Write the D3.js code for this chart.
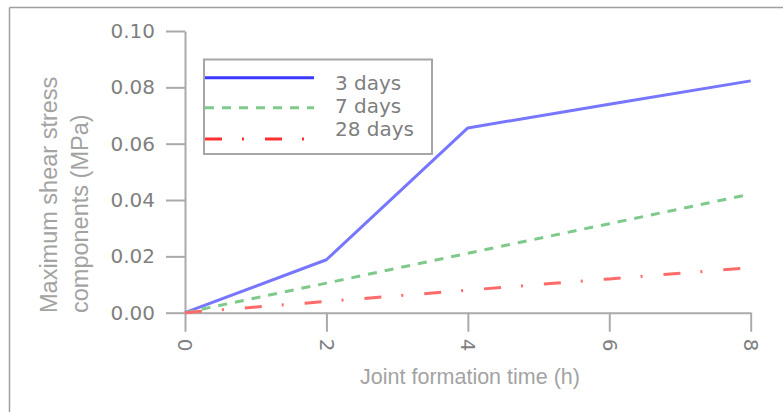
<!DOCTYPE html>
<html>
<head>
<meta charset="utf-8">
<script src="https://cdn.jsdelivr.net/npm/d3@7/dist/d3.min.js"></script>
<style>
  html, body { margin: 0; padding: 0; background: #fff; }
  svg { display: block; }
</style>
</head>
<body>
<svg id="chart" width="783" height="412"></svg>
<script>
// ---- data ----
const times = [0, 2, 4, 6, 8];
const days3 = [0, 0.0188, 0.0656, 0.0740, 0.0823];
const days7 = [0, 0.0105, 0.0211, 0.0316, 0.0421];
const days28 = [0, 0.0040, 0.0080, 0.0120, 0.0160];
const seriesNames = ["3 days", "7 days", "28 days"];
const xTicks = [0, 2, 4, 6, 8];
const yTicks = [0, 0.02, 0.04, 0.06, 0.08, 0.10];

const series = [
  { name: seriesNames[0], values: days3, color: "#7676ff", legendColor: "#3a3aff", dash: null },
  { name: seriesNames[1], values: days7, color: "#7fc98b", legendColor: "#7fc98b", dash: "9,8" },
  { name: seriesNames[2], values: days28, color: "#ff6a6a", legendColor: "#ff3030", dash: "17,20,2,21" }
];

const svg = d3.select("#chart");
const axisColor = "#aaaaaa";
const tickTextColor = "#7f7f7f";
const titleColor = "#a3a3a3";
const tickFont = "'DejaVu Sans', Verdana, sans-serif";
const titleFont = "'Liberation Sans', Arial, sans-serif";

// frame (top and left)
svg.append("line").attr("x1", 9.5).attr("x2", 783).attr("y1", 7.5).attr("y2", 7.5)
  .attr("stroke", "#a0a0a0").attr("stroke-width", 1.5);
svg.append("line").attr("x1", 9.5).attr("x2", 9.5).attr("y1", 7.5).attr("y2", 412)
  .attr("stroke", "#a0a0a0").attr("stroke-width", 1.5);

const x = d3.scaleLinear().domain([0, 8]).range([185, 750.7]);
const y = d3.scaleLinear().domain([0, 0.1]).range([312.7, 31]);

// y axis
const yAxis = svg.append("g").attr("transform", `translate(${x(0)},0)`)
  .call(d3.axisLeft(y).tickValues(yTicks).tickFormat(d3.format(".2f")).tickSize(19).tickPadding(11).tickSizeOuter(0));
yAxis.select(".domain").attr("stroke", axisColor).attr("stroke-width", 2);
yAxis.selectAll(".tick line").attr("stroke", axisColor).attr("stroke-width", 2);
yAxis.selectAll(".tick text").attr("fill", tickTextColor).style("font-family", tickFont).style("font-size", "20px");

// x axis
const xAxis = svg.append("g").attr("transform", `translate(0,${y(0)})`)
  .call(d3.axisBottom(x).tickValues(xTicks).tickFormat(d3.format("d")).tickSize(19).tickSizeOuter(0));
xAxis.select(".domain").attr("stroke", axisColor).attr("stroke-width", 2);
xAxis.selectAll(".tick line").attr("stroke", axisColor).attr("stroke-width", 2);
xAxis.selectAll(".tick text")
  .attr("y", 0).attr("dy", "0.36em")
  .attr("transform", "translate(0,26) rotate(90)")
  .attr("text-anchor", "start")
  .attr("fill", tickTextColor).style("font-family", tickFont).style("font-size", "20px");

// axis titles
svg.append("text").attr("x", 470).attr("y", 384).attr("text-anchor", "middle")
  .attr("fill", titleColor).style("font-family", titleFont).style("font-size", "21.5px")
  .text("Joint formation time (h)");
const yTitle = svg.append("text").attr("transform", "translate(0,313) rotate(-90)")
  .attr("text-anchor", "start").attr("fill", titleColor)
  .style("font-family", titleFont).style("font-size", "23.5px");
yTitle.append("tspan").attr("x", 0).attr("y", 57).text("Maximum shear stress");
yTitle.append("tspan").attr("x", 0).attr("y", 88).text("components (MPa)");

// lines
const line = d3.line().x((d, i) => x(times[i])).y(d => y(d));
series.forEach(s => {
  svg.append("path").datum(s.values)
    .attr("d", line)
    .attr("fill", "none")
    .attr("stroke", s.color)
    .attr("stroke-width", 3)
    .attr("stroke-dasharray", s.dash)
    .attr("stroke-linejoin", "round");
});

// legend
const legend = svg.append("g");
legend.append("rect").attr("x", 204).attr("y", 59.5).attr("width", 228).attr("height", 94.5)
  .attr("fill", "#fff").attr("stroke", "#a6a6a6").attr("stroke-width", 2);
const legLineY = [77.7, 107.7, 139];
const legTextY = [90, 113, 136];
series.forEach((s, i) => {
  legend.append("line").attr("x1", 205).attr("x2", 314)
    .attr("y1", legLineY[i]).attr("y2", legLineY[i])
    .attr("stroke", s.legendColor).attr("stroke-width", 3)
    .attr("stroke-dasharray", s.dash);
  legend.append("text").attr("x", 335).attr("y", legTextY[i])
    .attr("fill", tickTextColor).style("font-family", tickFont).style("font-size", "20px")
    .text(s.name);
});
</script>
</body>
</html>
